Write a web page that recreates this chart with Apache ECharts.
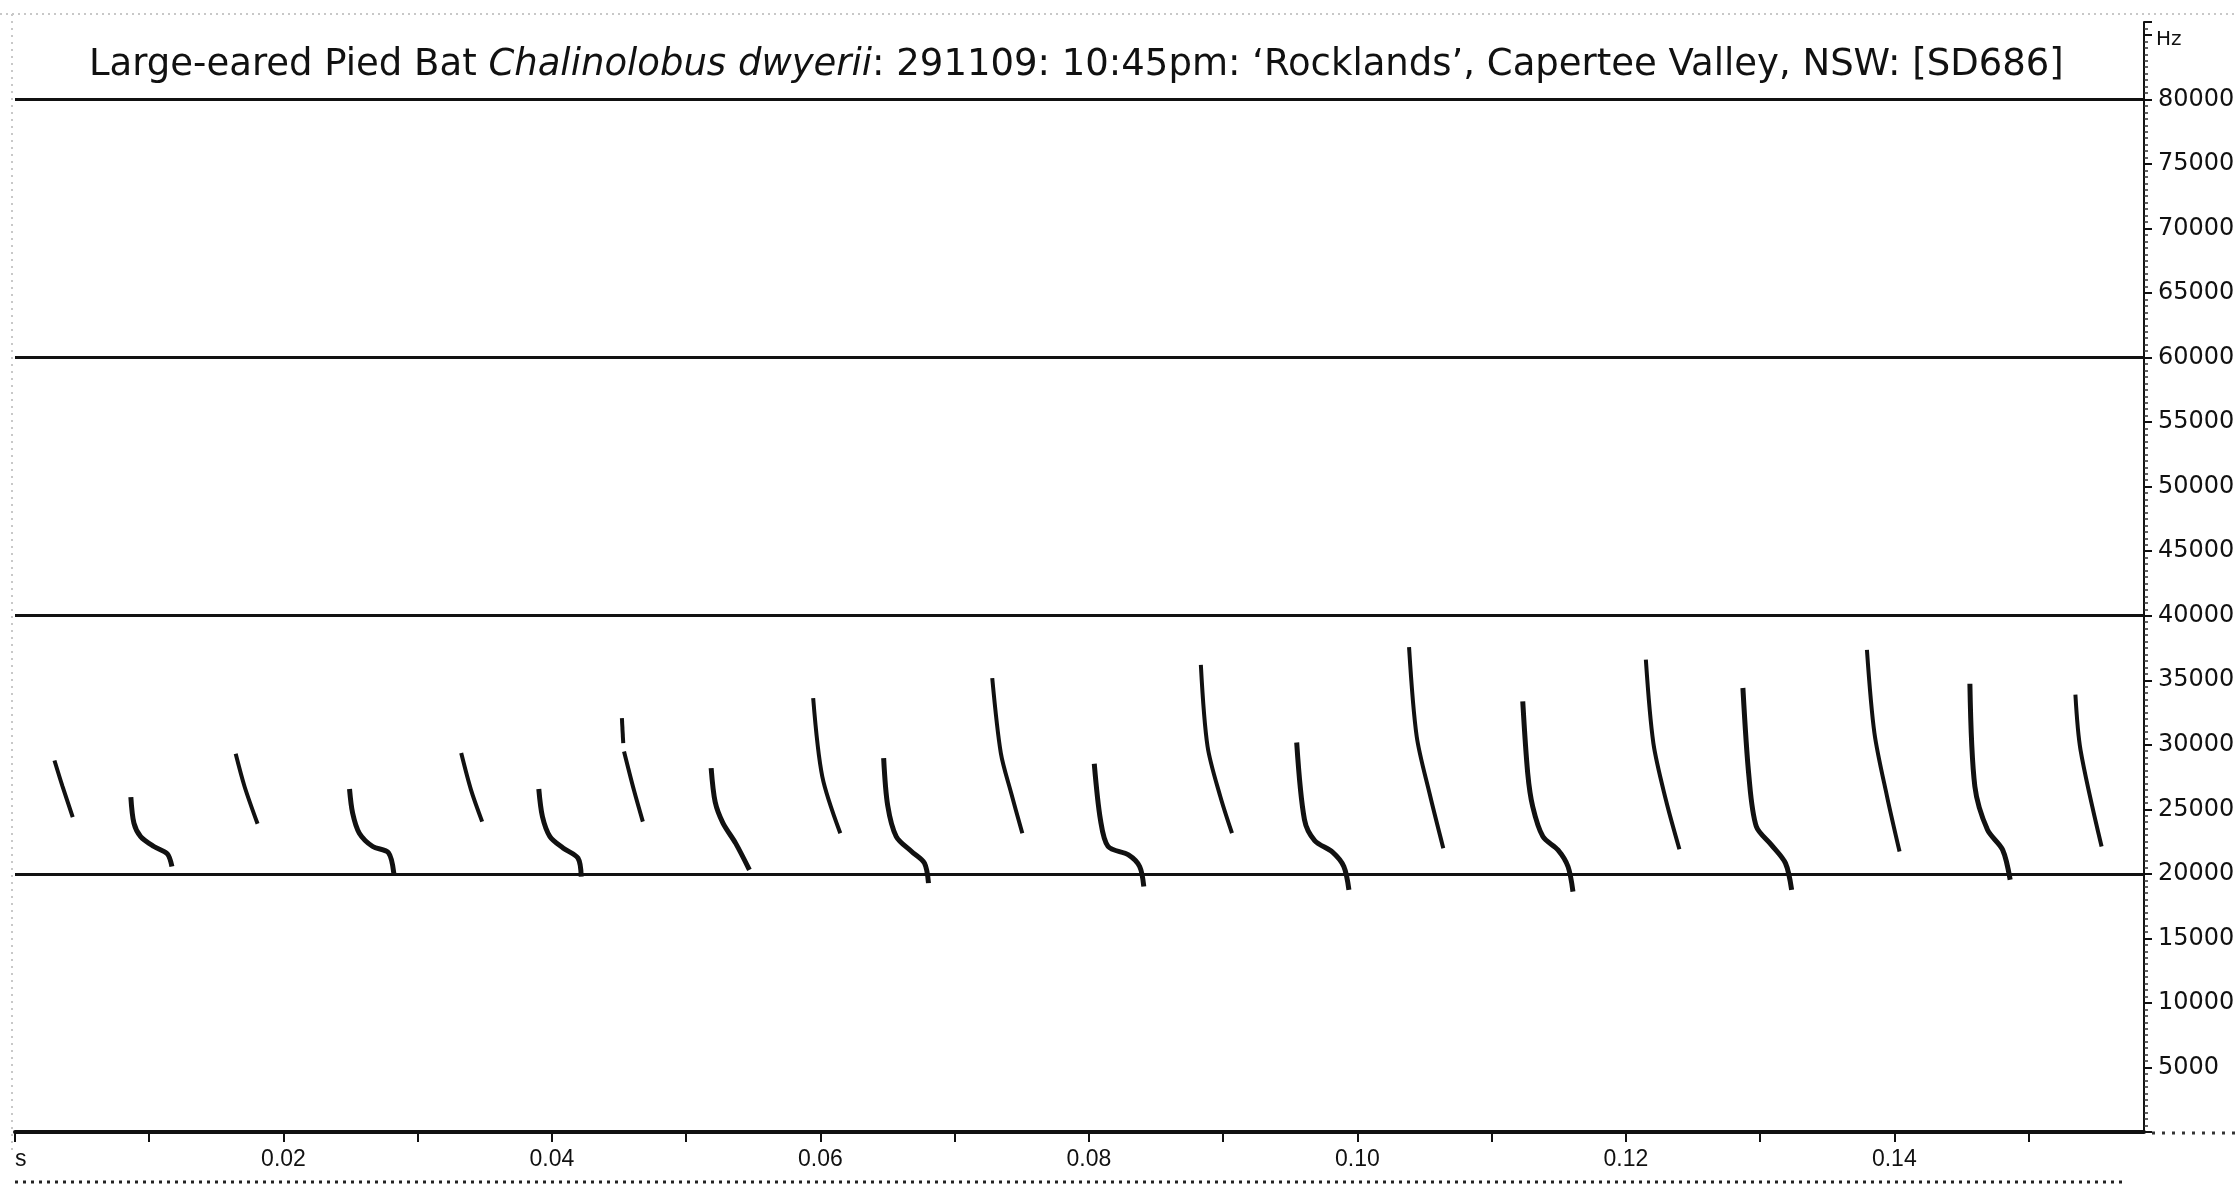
<!DOCTYPE html>
<html>
<head>
<meta charset="utf-8">
<title>Large-eared Pied Bat sonogram</title>
<script src="https://cdn.jsdelivr.net/npm/echarts@6.0.0/dist/echarts.min.js"></script>
<style>
  html, body { margin: 0; padding: 0; background: #fff; }
  #chart { width: 2238px; height: 1190px; }
</style>
</head>
<body>
<div id="chart"></div>
<script>
// pulses: time in s, frequency in Hz (one inner list per pulse)
var callTimes = [
  [0.00294, 0.00354, 0.00430],
  [0.00863, 0.00886, 0.00936, 0.01035, 0.01135, 0.01169],
  [0.01644, 0.01710, 0.01807],
  [0.02492, 0.02515, 0.02565, 0.02665, 0.02781, 0.02822],
  [0.03324, 0.03397, 0.03480],
  [0.03902, 0.03929, 0.03985, 0.04085, 0.04194, 0.04218],
  [0.04521, 0.04531],
  [0.04537, 0.04610, 0.04677],
  [0.05186, 0.05216, 0.05274, 0.05368, 0.05471],
  [0.05946, 0.06014, 0.06148],
  [0.06471, 0.06501, 0.06565, 0.06679, 0.06775, 0.06805],
  [0.07280, 0.07344, 0.07421, 0.07504],
  [0.08040, 0.08086, 0.08143, 0.08295, 0.08378, 0.08409],
  [0.08834, 0.08884, 0.08979, 0.09066],
  [0.09548, 0.09606, 0.09682, 0.09815, 0.09899, 0.09937],
  [0.10385, 0.10442, 0.10537, 0.10640],
  [0.11232, 0.11269, 0.11306, 0.11382, 0.11494, 0.11569, 0.11606],
  [0.12149, 0.12205, 0.12298, 0.12399],
  [0.12872, 0.12917, 0.12972, 0.13084, 0.13189, 0.13235],
  [0.13796, 0.13852, 0.13946, 0.14039],
  [0.14563, 0.14600, 0.14694, 0.14807, 0.14863],
  [0.15349, 0.15387, 0.15544]
];
var callFreqs = [
  [28780, 26770, 24400],
  [25950, 23930, 22890, 22120, 21550, 20570],
  [29300, 26770, 23880],
  [26570, 24710, 23150, 22120, 21650, 20050],
  [29360, 26510, 24050],
  [26570, 24440, 22890, 21990, 21220, 19790],
  [32070, 30130],
  [29480, 26510, 24050],
  [28190, 25560, 23930, 22380, 20310],
  [33620, 27540, 23150],
  [28970, 25300, 22890, 21730, 20830, 19280],
  [35170, 29360, 26260, 23150],
  [28530, 24190, 22120, 21470, 20570, 19020],
  [36200, 29870, 25990, 23150],
  [30180, 24190, 22580, 21680, 20570, 18760],
  [37570, 30640, 26260, 21990],
  [33360, 27800, 25220, 22890, 21860, 20570, 18630],
  [36590, 30130, 25740, 21910],
  [34400, 27540, 23670, 22250, 20830, 18760],
  [37360, 30900, 25990, 21730],
  [34730, 26770, 23410, 21860, 19540],
  [33880, 29610, 22120]
];

var xTickValues = [0, 0.02, 0.04, 0.06, 0.08, 0.10, 0.12, 0.14];
var xTickText = ['s', '0.02', '0.04', '0.06', '0.08', '0.10', '0.12', '0.14'];
var yTickMin = 5000, yTickMax = 80000;
var bandLines = [20000, 40000, 60000, 80000];

var chart = echarts.init(document.getElementById('chart'));

var series = callTimes.map(function (ts, i) {
  var pts = ts.map(function (t, j) { return [t, callFreqs[i][j]]; });
  return {
    type: 'line',
    data: pts,
    smooth: 0.3,
    symbol: 'none',
    silent: true,
    lineStyle: { color: '#111', width: ts.length > 4 ? 5 : 4 }
  };
});

// the heavy horizontal rules every 20 kHz
series[0].markLine = {
  silent: true,
  symbol: 'none',
  label: { show: false },
  lineStyle: { color: '#111', width: 3, type: 'solid' },
  data: bandLines.map(function (v) { return { yAxis: v }; })
};

chart.setOption({
  animation: false,
  backgroundColor: '#fff',
  title: {
    text: 'Large-eared Pied Bat {i|Chalinolobus dwyerii}: 291109: 10:45pm: \u2018Rocklands\u2019, Capertee Valley, NSW: [SD686]',
    left: 84,
    top: 42,
    textStyle: {
      fontFamily: 'DejaVu Sans',
      fontSize: 37,
      fontWeight: 'normal',
      color: '#111',
      rich: {
        i: { fontFamily: 'DejaVu Sans', fontSize: 37, fontStyle: 'italic', color: '#111' }
      }
    }
  },
  grid: { left: 15, right: 94, top: 22, bottom: 58 },
  xAxis: {
    type: 'value',
    min: 0,
    max: 0.1586,
    interval: 0.01,
    splitLine: { show: false },
    axisLine: { onZero: false, lineStyle: { color: '#111', width: 4 } },
    axisTick: { length: 10, lineStyle: { color: '#111', width: 2 } },
    axisLabel: {
      margin: 16,
      fontFamily: "'Liberation Sans Narrow', 'Liberation Sans'",
      fontSize: 23,
      color: '#111',
      showMaxLabel: false,
      alignMinLabel: 'left',
      formatter: function (v) {
        for (var k = 0; k < xTickValues.length; k++) {
          if (Math.abs(v - xTickValues[k]) < 1e-6) return xTickText[k];
        }
        return '';
      }
    }
  },
  yAxis: {
    type: 'value',
    position: 'right',
    min: 0,
    max: 86000,
    interval: 5000,
    splitLine: { show: false },
    axisLine: { onZero: false, lineStyle: { color: '#111', width: 2 } },
    axisTick: { length: 8, lineStyle: { color: '#111', width: 2 } },
    minorTick: { show: true, splitNumber: 10, length: 4, lineStyle: { color: '#333', width: 1.5 } },
    axisLabel: {
      margin: 14,
      fontFamily: 'DejaVu Sans',
      fontSize: 24,
      color: '#111',
      showMaxLabel: false,
      formatter: function (v) {
        return (v >= yTickMin && v <= yTickMax) ? String(v) : '';
      }
    }
  },
  graphic: [
    { type: 'line', shape: { x1: 0, y1: 14, x2: 2238, y2: 14 }, style: { stroke: '#c8c8c8', lineWidth: 2, lineDash: [2, 4] } },
    { type: 'line', shape: { x1: 12, y1: 14, x2: 12, y2: 1150 }, style: { stroke: '#c8c8c8', lineWidth: 2, lineDash: [2, 5] } },
    { type: 'line', shape: { x1: 15, y1: 1182, x2: 2125, y2: 1182 }, style: { stroke: '#222', lineWidth: 3, lineDash: [3, 5] } },
    { type: 'line', shape: { x1: 2152, y1: 1133, x2: 2238, y2: 1133 }, style: { stroke: '#333', lineWidth: 3, lineDash: [3, 7] } },
    { type: 'text', left: 2156, top: 30, style: { text: 'Hz', fontFamily: 'DejaVu Sans', fontSize: 20, fill: '#111' } }
  ],
  series: series
});
</script>
</body>
</html>
